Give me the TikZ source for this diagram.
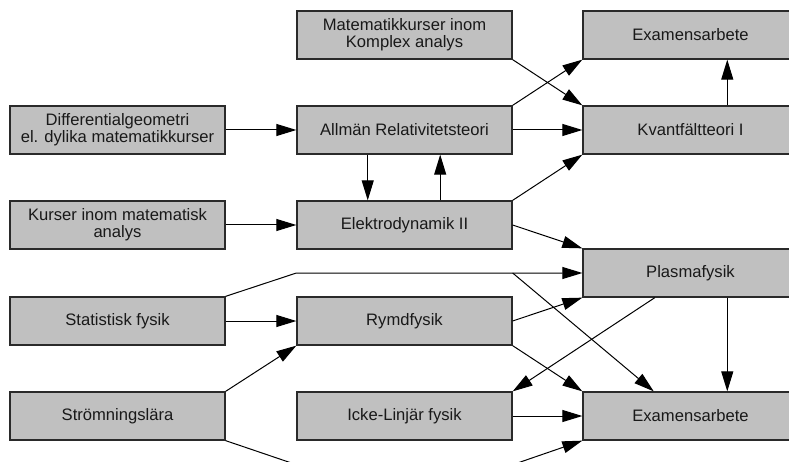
\documentclass[tikz,border=0pt]{standalone}
\usepackage{fontspec}
\setmainfont{Liberation Sans}
\usetikzlibrary{arrows.meta,calc}
\definecolor{boxfill}{HTML}{C0C0C0}
\definecolor{boxline}{HTML}{2A2A2A}
\tikzset{
  course/.style={rectangle, draw=boxline, fill=boxfill, line width=1.3pt,
    minimum width=215pt, minimum height=48pt, inner sep=0pt, align=center,
    font=\fontsize{16.6}{17}\selectfont, text=black!90},
  link/.style={line width=1pt, draw=black},
  arr/.style={link, -{Triangle[length=20pt,width=12pt]}}
}
\begin{document}
\begin{tikzpicture}[x=1pt,y=-1pt]
\useasboundingbox (0,0) rectangle (789,462);
\clip (0,0) rectangle (789,462);
\fill[white] (0,0) rectangle (789,462);

% left column
\node[course] (diff)   at (117.5,130) {Differentialgeometri\\el. dylika matematikkurser};
\node[course] (kurser) at (117.5,225) {Kurser inom matematisk\\analys};
\node[course] (stat)   at (117.5,321) {Statistisk fysik};
\node[course] (strom)  at (117.5,416) {Strömningslära};
% middle column
\node[course] (matem)  at (404.5,35)  {Matematikkurser inom\\Komplex analys};
\node[course] (allman) at (404.5,130) {Allmän Relativitetsteori};
\node[course] (elektro) at (404.5,225) {Elektrodynamik II};
\node[course] (rymd)   at (404.5,321) {Rymdfysik};
\node[course] (icke)   at (404.5,416) {Icke-Linjär fysik};
% right column
\node[course] (examtop) at (690.5,35)  {Examensarbete};
\node[course] (kvant)   at (690.5,130) {Kvantfältteori I};
\node[course] (plasma)  at (690.5,273) {Plasmafysik};
\node[course] (examlow) at (690.5,416) {Examensarbete};

% bend points of the routed connectors
\coordinate (sj1) at (rymd.north west |- plasma.west);
\coordinate (sj2) at (rymd.north east |- plasma.west);
\coordinate (sk1) at ($(icke.south west)+(0,24)$);
\coordinate (sk2) at ($(icke.south east)+(0,24)$);

\draw[arr] (diff.east) -- (allman.west);
\draw[arr] (kurser.east) -- (elektro.west);
\draw[arr] ($(allman.south west)!0.33!(allman.south east)$) -- ($(elektro.north west)!0.33!(elektro.north east)$);
\draw[arr] ($(elektro.north west)!0.665!(elektro.north east)$) -- ($(allman.south west)!0.665!(allman.south east)$);
\draw[arr] (matem.south east) -- (kvant.north west);
\draw[arr] (allman.north east) -- (examtop.south west);
\draw[arr] (allman.east) -- (kvant.west);
\draw[arr] (elektro.north east) -- (kvant.south west);
\draw[arr] ($(kvant.north west)!0.67!(kvant.north east)$) -- ($(examtop.south west)!0.67!(examtop.south east)$);
\draw[arr] (elektro.east) -- (plasma.north west);
\draw[arr] (stat.north east) -- (sj1) -- (sj2) -- (plasma.west);
\draw[arr] (sj2) -- ($(examlow.north west)!0.33!(examlow.north east)$);
\draw[arr] (stat.east) -- (rymd.west);
\draw[arr] (strom.north east) -- (rymd.south west);
\draw[arr] (rymd.east) -- (plasma.south west);
\draw[arr] (rymd.south east) -- (examlow.north west);
\draw[arr] ($(plasma.south west)!0.335!(plasma.south east)$) -- (icke.north east);
\draw[arr] ($(plasma.south west)!0.67!(plasma.south east)$) -- ($(examlow.north west)!0.67!(examlow.north east)$);
\draw[arr] (icke.east) -- (examlow.west);
\draw[arr] (strom.south east) -- (sk1) -- (sk2) -- (examlow.south west);
\end{tikzpicture}
\end{document}
